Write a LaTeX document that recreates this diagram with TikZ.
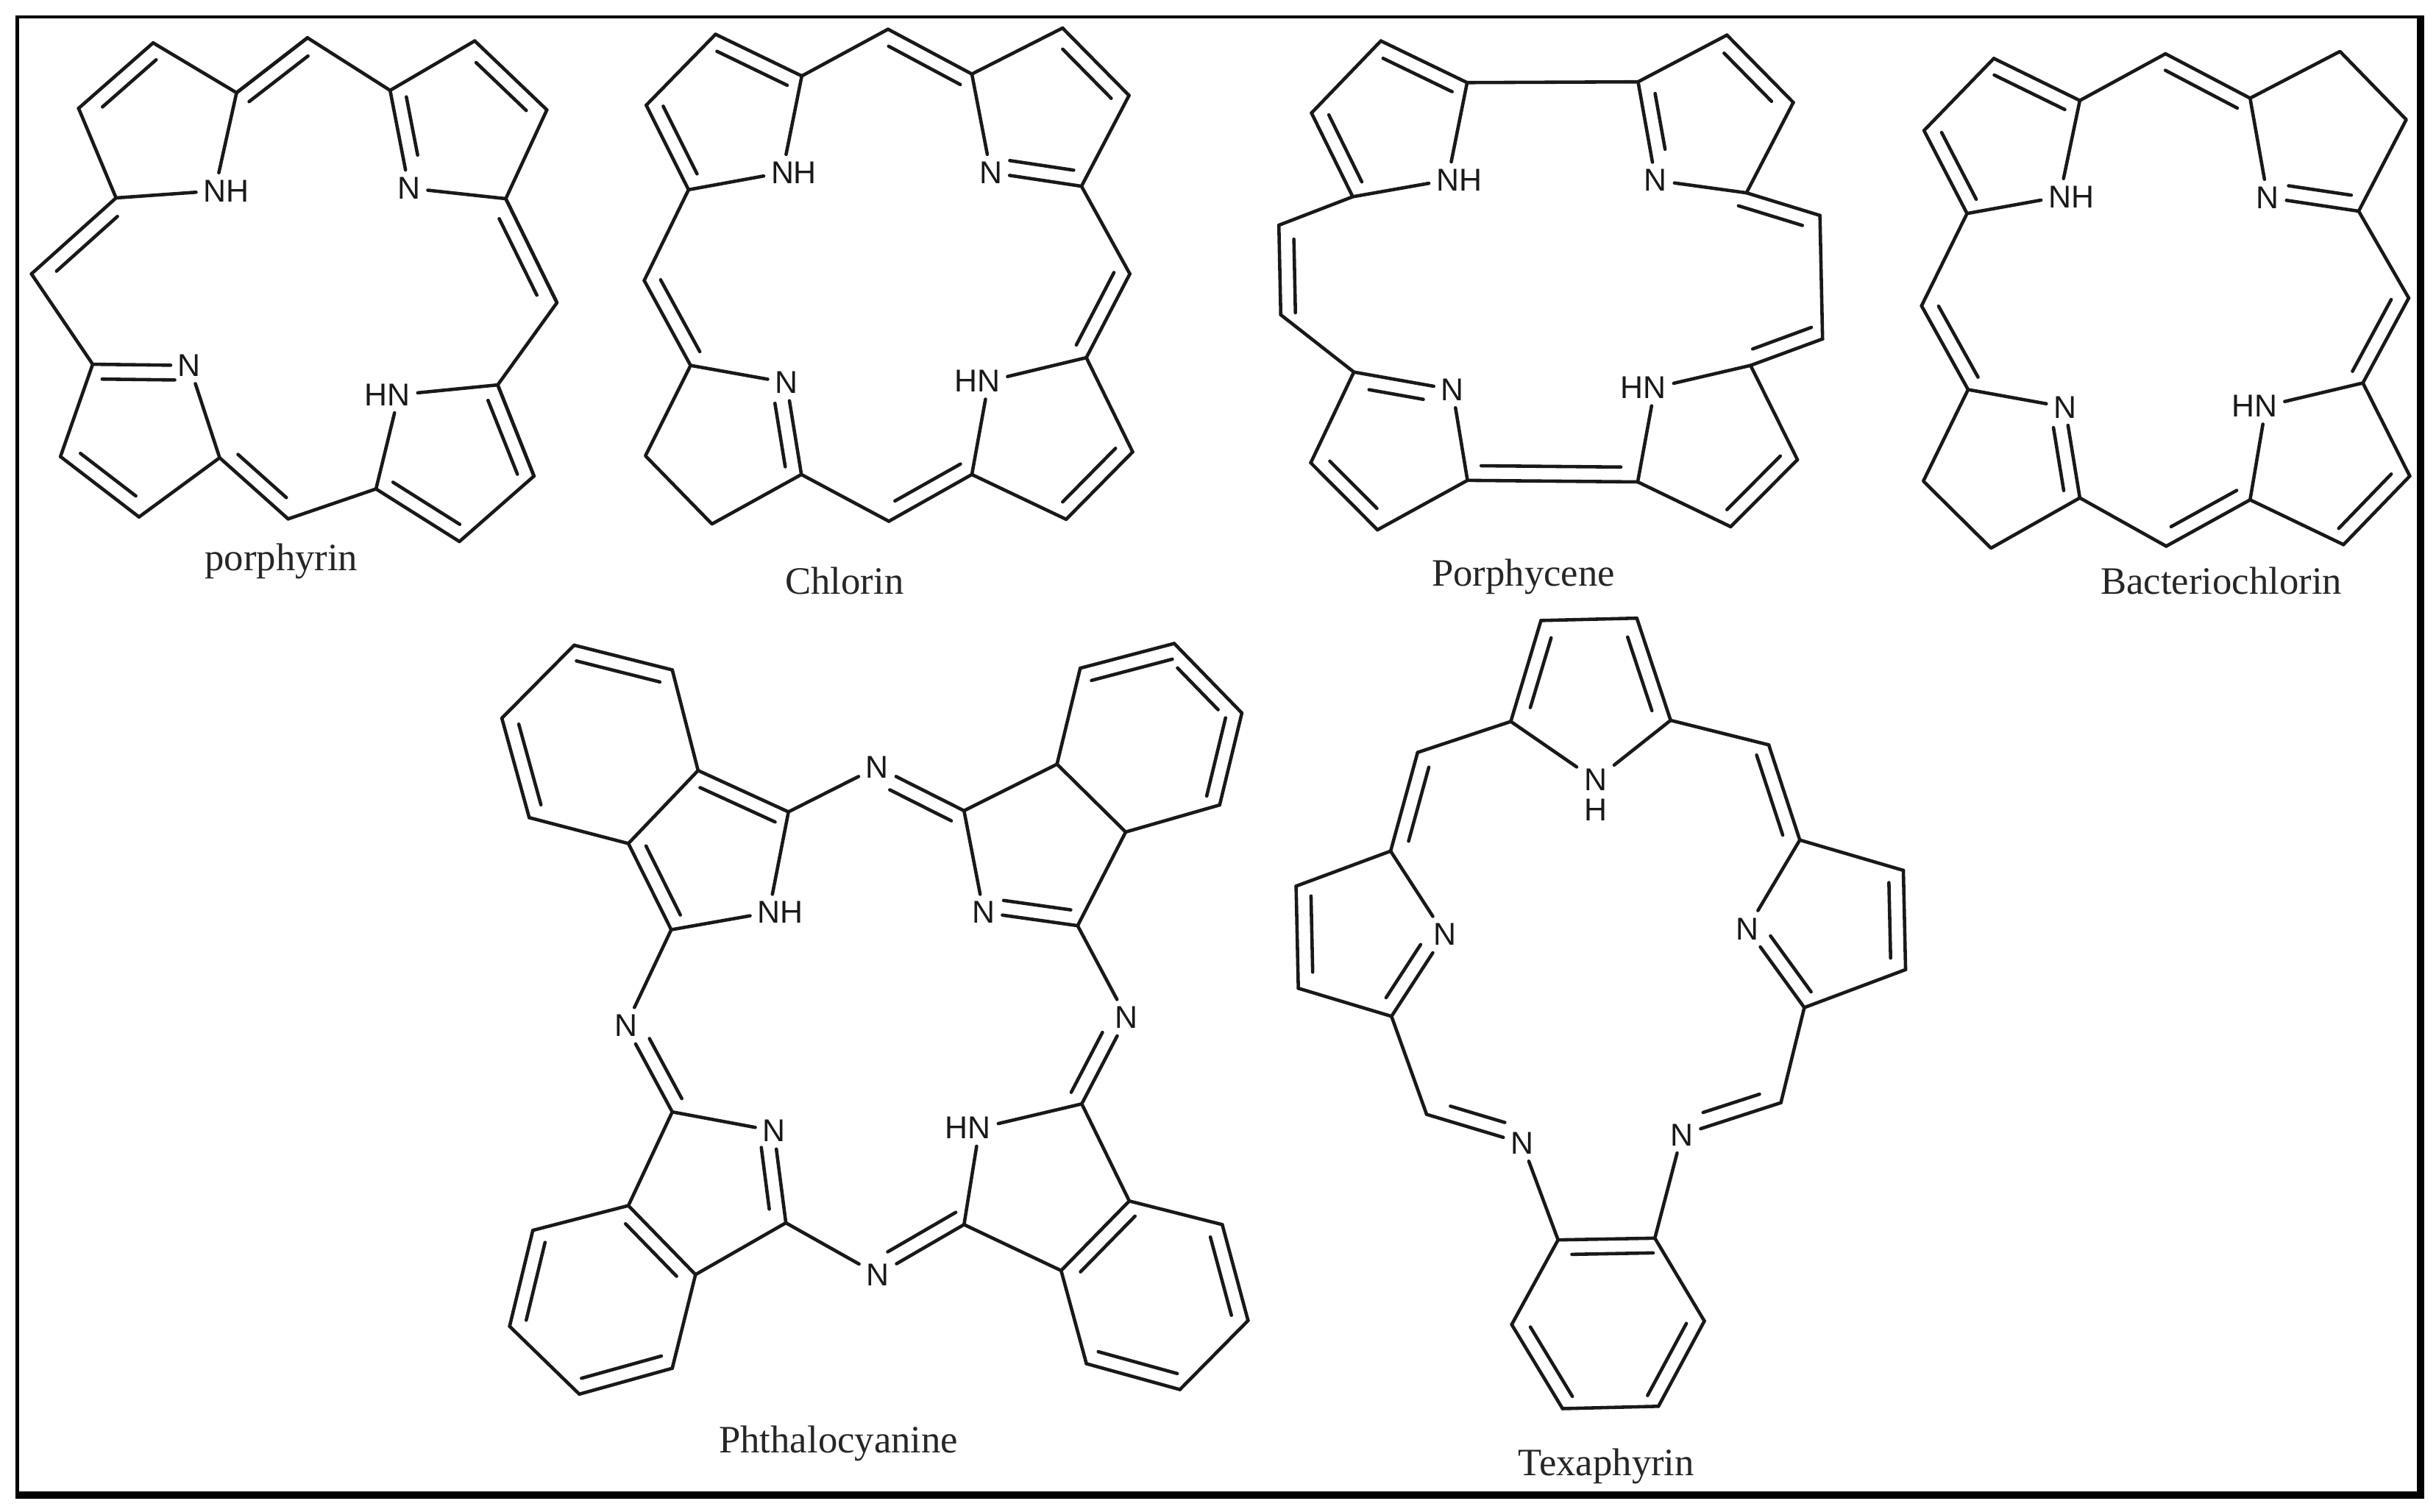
\documentclass[tikz,border=0pt]{standalone}
\usepackage{fontspec}
\setmainfont{Liberation Serif}
\setsansfont{Liberation Sans}
\usetikzlibrary{calc}
\tikzset{
  bond/.style={line width=1.3pt, line cap=round, line join=round, black!90},
  atom/.style={inner sep=.1cm, outer sep=0pt, font=\sffamily\fontsize{12.2}{12.2}\selectfont, text=black!90},
  molname/.style={anchor=base, inner sep=0pt, font=\fontsize{15}{15}\selectfont, text=black!85}
}
\newcommand{\dbl}[4]{%
  \draw[bond] (#1) -- (#2);
  \draw[bond] ($(#1)!#3!(#2)!.2cm!90:(#2)$) -- ($(#2)!#4!(#1)!.2cm!-90:(#1)$);
}
\begin{document}
\begin{tikzpicture}
\useasboundingbox (0,0) rectangle (33.11,-20.54);
\fill[black] (.21,-.21) rectangle (32.95,-20.37);
\fill[white] (.255,-.245) rectangle (32.85,-20.27);

\begin{scope}[x=.005485cm, y=-.005293cm]
\coordinate (c1) at (195,278); \coordinate (c2) at (380,110); \coordinate (c3) at (587,238); \coordinate (c4) at (288,508);
\coordinate (c5) at (968,232); \coordinate (c6) at (1178,105); \coordinate (c7) at (1357,282); \coordinate (c8) at (1255,510);
\coordinate (c9) at (1235,988); \coordinate (c10) at (1325,1222); \coordinate (c11) at (1140,1390); \coordinate (c12) at (933,1255);
\coordinate (c13) at (545,1175); \coordinate (c14) at (345,1327); \coordinate (c15) at (150,1172); \coordinate (c16) at (230,935);
\coordinate (m1) at (763,97); \coordinate (m2) at (1382,777); \coordinate (m3) at (715,1332); \coordinate (m4) at (78,703);
\node[atom] (n1) at (533,490){N\rlap{H}};
\node[atom] (n2) at (1015,483){N};
\node[atom] (n3) at (990,1013){\llap{H}N};
\node[atom] (n4) at (470,938){N};
\node[molname] (porphyrin) at (698,1465){porphyrin};

\draw[bond] (c1) -- (c4) -- (n1) -- (c3) -- (c2);
\draw[bond] (c3) -- (m1) (m4) -- (c16);
\draw[bond] (m1) -- (c5) -- (c6) (c7) -- (c8) -- (n2);
\draw[bond] (c8) -- (m2) -- (c9) -- (n3) -- (c12) -- (m3);
\draw[bond] (c9) -- (c10) (c11) -- (c10);
\draw[bond] (n4) -- (c13) -- (c14) (c15) -- (c16);
\dbl{c2}{c1}{.09}{.19}
\dbl{c4}{m4}{.10}{.18}
\dbl{n4}{c16}{.15}{.10}
\dbl{c13}{m3}{.125}{.17}
\dbl{c12}{c11}{.11}{.09}
\dbl{c10}{c9}{.08}{.11}
\dbl{m2}{c8}{.135}{.13}
\dbl{c5}{n2}{.095}{.31}
\dbl{c7}{c6}{.145}{.16}
\dbl{m1}{c3}{.12}{.05}
\dbl{c15}{c14}{.14}{.155}
\end{scope}

\begin{scope}[shift={(8.4cm,0cm)}, x=.005485cm, y=-.005293cm]
\coordinate (a1) at (70,270); \coordinate (a2) at (242,88); \coordinate (a3) at (456,195); \coordinate (a4) at (175,487);
\coordinate (a5) at (878,190); \coordinate (a6) at (1103,72); \coordinate (a7) at (1268,245); \coordinate (a8) at (1150,478);
\coordinate (a9) at (1162,918); \coordinate (a10) at (1277,1160); \coordinate (a11) at (1112,1333); \coordinate (a12) at (878,1218);
\coordinate (a13) at (455,1218); \coordinate (a14) at (233,1345); \coordinate (a15) at (68,1170); \coordinate (a16) at (180,938);
\coordinate (m1) at (670,75); \coordinate (m2) at (1270,703); \coordinate (m3) at (672,1338); \coordinate (m4) at (65,720);
\node[atom] (n1) at (408,443){N\rlap{H}};
\node[atom] (n2) at (925,443){N};
\node[atom] (n3) at (920,978){\llap{H}N};
\node[atom] (n4) at (418,982){N};
\node[molname] (chlorin) at (562,1525){Chlorin};

\draw[bond] (a1) -- (a2) (a3) -- (n1) -- (a4) -- (m4);
\draw[bond] (a3) -- (m1) (a5) -- (a6) (a7) -- (a8) -- (m2);
\draw[bond] (a5) -- (n2) (a9) -- (n3) -- (a12) -- (a11);
\draw[bond] (a9) -- (a10) (m3) -- (a13) -- (a14) -- (a15) -- (a16) -- (n4);
\dbl{a3}{a2}{.095}{.09}
\dbl{a1}{a4}{.09}{.11}
\dbl{a5}{m1}{.055}{.09}
\dbl{a7}{a6}{.11}{.16}
\dbl{n2}{a8}{.185}{.11}
\dbl{a9}{m2}{.07}{.065}
\dbl{a11}{a10}{.105}{.10}
\dbl{m3}{a12}{.16}{.05}
\dbl{a13}{n4}{.11}{.20}
\dbl{m4}{a16}{.075}{.08}
\end{scope}

\begin{scope}[shift={(17cm,0cm)}, x=.005102cm, y=-.005293cm]
\coordinate (b1) at (162,290); \coordinate (b2) at (347,105); \coordinate (b3) at (577,212); \coordinate (b4) at (272,505);
\coordinate (b5) at (1033,210); \coordinate (b6) at (1270,90); \coordinate (b7) at (1447,263); \coordinate (b8) at (1322,495);
\coordinate (b9) at (1333,938); \coordinate (b10) at (1458,1180); \coordinate (b11) at (1280,1352); \coordinate (b12) at (1032,1237);
\coordinate (b13) at (578,1233); \coordinate (b14) at (338,1360); \coordinate (b15) at (160,1188); \coordinate (b16) at (275,955);
\coordinate (r1) at (1518,553); \coordinate (r2) at (1525,870); \coordinate (l1) at (80,808); \coordinate (l2) at (75,578);
\node[atom] (n1) at (525,462){N\rlap{H}};
\node[atom] (n2) at (1080,463){N};
\node[atom] (n3) at (1078,995){\llap{H}N};
\node[atom] (n4) at (538,1000){N};
\node[molname] (porphycene) at (727,1505){Porphycene};

\draw[bond] (b1) -- (b2) (b3) -- (b5) -- (b6) (b3) -- (n1) -- (b4) -- (l2);
\draw[bond] (l1) -- (b16) -- (b15) (b14) -- (b13) -- (n4);
\draw[bond] (b12) -- (n3) -- (b9) -- (b10) (b12) -- (b11);
\draw[bond] (r2) -- (r1) (b8) -- (n2) (b7) -- (b8);
\dbl{b1}{b4}{.10}{.10}
\dbl{b3}{b2}{.10}{.10}
\dbl{l2}{l1}{.16}{.02}
\dbl{n4}{b16}{.27}{.18}
\dbl{b15}{b14}{.13}{.165}
\dbl{b13}{b12}{.08}{.10}
\dbl{b11}{b10}{.10}{.10}
\dbl{b9}{r2}{.10}{.085}
\dbl{r1}{b8}{.18}{-.05}
\dbl{b5}{n2}{.145}{.29}
\dbl{b7}{b6}{.17}{.115}
\end{scope}

\begin{scope}[shift={(25.6cm,0cm)}, x=.00479cm, y=-.005293cm]
\coordinate (d1) at (115,335); \coordinate (d2) at (313,150); \coordinate (d3) at (557,258); \coordinate (d4) at (237,548);
\coordinate (d5) at (1040,252); \coordinate (d6) at (1295,132); \coordinate (d7) at (1483,307); \coordinate (d8) at (1348,542);
\coordinate (d9) at (1360,983); \coordinate (d10) at (1493,1222); \coordinate (d11) at (1305,1398); \coordinate (d12) at (1040,1283);
\coordinate (d13) at (557,1278); \coordinate (d14) at (305,1407); \coordinate (d15) at (113,1235); \coordinate (d16) at (240,1000);
\coordinate (m1) at (800,138); \coordinate (m2) at (1490,765); \coordinate (m3) at (802,1402); \coordinate (m4) at (108,785);
\node[atom] (n1) at (500,505){N\rlap{H}};
\node[atom] (n2) at (1090,507){N};
\node[atom] (n3) at (1085,1042){\llap{H}N};
\node[atom] (n4) at (515,1045){N};
\node[molname] (bacteriochlorin) at (958,1525){Bacteriochlorin};

\draw[bond] (d1) -- (d2) (d3) -- (n1) -- (d4) -- (m4);
\draw[bond] (d3) -- (m1) (d5) -- (d6) -- (d7) -- (d8) -- (m2);
\draw[bond] (d5) -- (n2) (d9) -- (d10) (d9) -- (n3) -- (d12) -- (d11);
\draw[bond] (m3) -- (d13) -- (d14) -- (d15) -- (d16) -- (n4);
\dbl{d1}{d4}{.105}{.09}
\dbl{d3}{d2}{.10}{.08}
\dbl{d5}{m1}{.07}{.08}
\dbl{n2}{d8}{.205}{.105}
\dbl{d9}{m2}{.055}{.10}
\dbl{d11}{d10}{.087}{.12}
\dbl{m3}{d12}{.143}{.075}
\dbl{d13}{n4}{.107}{.20}
\dbl{m4}{d16}{.09}{.063}
\end{scope}

\begin{scope}[shift={(6.4cm,-8.3cm)}, x=.007015cm, y=-.007806cm]
\coordinate (p1) at (60,187); \coordinate (p2) at (200,60); \coordinate (p3) at (390,103); \coordinate (p4) at (440,278);
\coordinate (p5) at (305,405); \coordinate (p6) at (113,360); \coordinate (p7) at (615,350); \coordinate (p8) at (388,555);
\coordinate (q1) at (955,348); \coordinate (q2) at (1135,267); \coordinate (q3) at (1268,385); \coordinate (q4) at (1175,548);
\coordinate (q5) at (1450,338); \coordinate (q6) at (1493,178); \coordinate (q7) at (1362,57); \coordinate (q8) at (1180,100);
\coordinate (s1) at (1183,858); \coordinate (s2) at (955,1068); \coordinate (s3) at (1143,1148); \coordinate (s4) at (1275,1027);
\coordinate (s5) at (1455,1068); \coordinate (s6) at (1505,1235); \coordinate (s7) at (1373,1355); \coordinate (s8) at (1192,1310);
\coordinate (u1) at (610,1065); \coordinate (u2) at (390,872); \coordinate (u3) at (305,1035); \coordinate (u4) at (435,1155);
\coordinate (u5) at (120,1078); \coordinate (u6) at (75,1245); \coordinate (u7) at (210,1363); \coordinate (u8) at (390,1318);
\node[atom] (n1) at (577,525){N\rlap{H}};
\node[atom] (n2) at (993,525){N};
\node[atom] (n3) at (985,900){\llap{H}N};
\node[atom] (n4) at (587,905){N};
\node[atom] (ntop) at (787,272){N};
\node[atom] (nright) at (1270,708){N};
\node[atom] (nbottom) at (788,1155){N};
\node[atom] (nleft) at (300,722){N};
\node[molname] (phthalocyanine) at (712,1465){Phthalocyanine};

\draw[bond] (p1) -- (p2) (p3) -- (p4) -- (p5) -- (p6);
\draw[bond] (p7) -- (n1) -- (p8) -- (nleft) (p7) -- (ntop);
\draw[bond] (q1) -- (q2) -- (q3) -- (q4) -- (nright) (q1) -- (n2);
\draw[bond] (q3) -- (q5) (q8) -- (q2);
\draw[bond] (s1) -- (n3) -- (s2) -- (s3) -- (s8) (s1) -- (s4) -- (s5) (s6) -- (s7);
\draw[bond] (nbottom) -- (u1) -- (u4) -- (u8) (u7) -- (u6) (u5) -- (u3) -- (u2) -- (n4);
\dbl{p1}{p6}{.10}{.09}
\dbl{p3}{p2}{.09}{.06}
\dbl{p7}{p4}{.08}{.09}
\dbl{p5}{p8}{.105}{.095}
\dbl{q1}{ntop}{.07}{.22}
\dbl{n2}{q4}{.19}{.095}
\dbl{q5}{q6}{.06}{.09}
\dbl{q6}{q7}{.195}{.205}
\dbl{q7}{q8}{.06}{.08}
\dbl{s1}{nright}{.055}{.25}
\dbl{s4}{s3}{.07}{.13}
\dbl{s6}{s5}{.095}{.09}
\dbl{s8}{s7}{.085}{.07}
\dbl{nbottom}{s2}{.20}{.01}
\dbl{u1}{n4}{.17}{.16}
\dbl{u4}{u3}{.125}{.115}
\dbl{u5}{u6}{.09}{.10}
\dbl{u7}{u8}{.066}{.075}
\dbl{nleft}{u2}{.23}{.074}
\end{scope}

\begin{scope}[shift={(17.2cm,-8.1cm)}, x=.006122cm, y=-.007934cm]
\coordinate (e1) at (545,215); \coordinate (e2) at (612,42); \coordinate (e3) at (825,38); \coordinate (e4) at (900,213);
\coordinate (f1) at (338,268); \coordinate (f2) at (278,437); \coordinate (f3) at (280,720); \coordinate (f4) at (68,497);
\coordinate (f5) at (73,672); \coordinate (f6) at (358,888);
\coordinate (g1) at (650,1103); \coordinate (g2) at (865,1100); \coordinate (g3) at (547,1248); \coordinate (g4) at (660,1392);
\coordinate (g5) at (873,1388); \coordinate (g6) at (975,1242);
\coordinate (h1) at (1145,868); \coordinate (h2) at (1197,705); \coordinate (h3) at (1187,418); \coordinate (h4) at (1118,255);
\coordinate (h5) at (1417,470); \coordinate (h6) at (1422,640);
\node[atom] (n1) at (733,315){N};
\node[atom, inner sep=0pt] (hyd) at (733,366){H};
\node[atom] (n2) at (398,580){N};
\node[atom] (n3) at (570,937){N};
\node[atom] (n4) at (925,923){N};
\node[atom] (n5) at (1070,570){N};
\node[molname] (texaphyrin) at (757,1507){Texaphyrin};

\draw[bond] (e2) -- (e3) (e4) -- (n1) -- (e1) -- (f1);
\draw[bond] (f2) -- (n2) (f2) -- (f4) (f5) -- (f3) -- (f6);
\draw[bond] (n3) -- (g1) -- (g3) (g4) -- (g5) (g6) -- (g2) -- (n4);
\draw[bond] (h1) -- (h2) -- (h6) (h5) -- (h3) -- (n5) (h4) -- (e4);
\dbl{e2}{e1}{.13}{.18}
\dbl{e4}{e3}{.14}{.14}
\dbl{f1}{f2}{.11}{.14}
\dbl{f3}{n2}{.13}{.22}
\dbl{f4}{f5}{.10}{.155}
\dbl{f6}{n3}{.205}{.225}
\dbl{g2}{g1}{.02}{.14}
\dbl{g3}{g4}{.12}{.055}
\dbl{g5}{g6}{.045}{.11}
\dbl{n4}{h1}{.26}{.17}
\dbl{n5}{h2}{.20}{.09}
\dbl{h3}{h4}{.10}{.06}
\dbl{h6}{h5}{.12}{.12}
\end{scope}
\end{tikzpicture}
\end{document}
